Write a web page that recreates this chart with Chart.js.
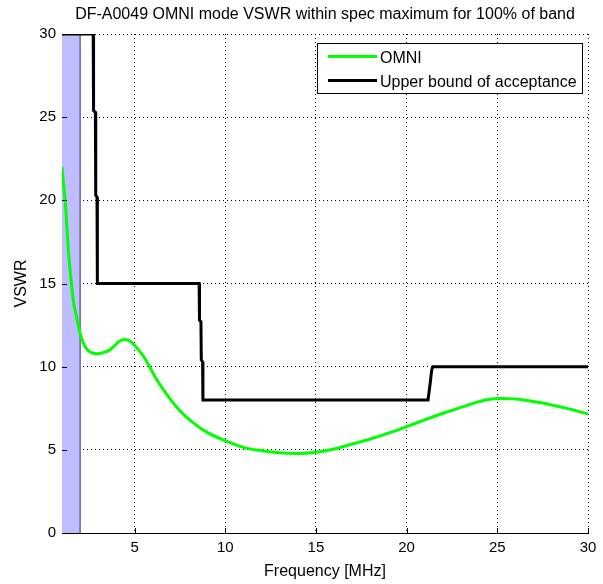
<!DOCTYPE html>
<html>
<head>
<meta charset="utf-8">
<script src="https://cdn.jsdelivr.net/npm/chart.js@4.4.1/dist/chart.umd.min.js"></script>
<style>
  html, body { margin: 0; padding: 0; background: #ffffff; }
  canvas { display: block; }
</style>
</head>
<body>
<canvas id="c" width="603" height="584"></canvas>
<script>
// ---- data ----
const chartTitle = 'DF-A0049 OMNI mode VSWR within spec maximum for 100% of band';
const xAxisLabel = 'Frequency [MHz]';
const yAxisLabel = 'VSWR';
const seriesLabels = ['OMNI', 'Upper bound of acceptance'];

const xTicks = [5, 10, 15, 20, 25, 30];
const yTicks = [0, 5, 10, 15, 20, 25, 30];

const omniFreq = [1, 1.1, 1.2, 1.35, 1.5, 1.62, 1.8, 1.95, 2.1, 2.3, 2.55, 2.9, 3.25, 3.6, 3.85, 4.1, 4.45, 4.8, 5.15, 5.6, 6.15, 6.6, 7.0, 7.5, 8.2, 9.0, 10, 11, 12, 13, 14, 15, 16, 17, 18, 19, 20, 21, 22, 23, 24, 25, 26, 27, 28, 29, 30];
const omniVswr = [22.0, 20.8, 19.6, 17.0, 15.2, 14.0, 13.0, 12.2, 11.65, 11.15, 10.88, 10.78, 10.84, 10.98, 11.2, 11.48, 11.63, 11.5, 11.1, 10.45, 9.35, 8.6, 8.0, 7.35, 6.65, 6.05, 5.55, 5.15, 4.95, 4.82, 4.78, 4.85, 5.05, 5.35, 5.65, 6.0, 6.4, 6.8, 7.2, 7.55, 7.9, 8.08, 8.05, 7.9, 7.7, 7.45, 7.15];

const limitFreq = [1, 2.72, 2.74, 2.84, 2.86, 2.93, 2.95, 8.56, 8.58, 8.66, 8.68, 8.75, 8.77, 21.18, 21.3, 21.38, 21.45, 30];
const limitVswr = [30, 30, 25.4, 25.3, 20.3, 20.2, 15, 15, 12.8, 12.7, 10.4, 10.3, 8, 8, 9.0, 9.8, 10, 10];

const bandFreq = [1, 2];
const bandVswr = [30, 30];

// ---- helpers ----
const FONT = '"Liberation Sans", Arial, Helvetica, sans-serif';
const toPts = (xs, ys) => xs.map((x, i) => ({ x: x, y: ys[i] }));

const legendPlugin = {
  id: 'boxLegend',
  afterDraw(chart) {
    const ctx = chart.ctx;
    const x0 = 317.5, y0 = 43.5, w = 265, h = 50;
    ctx.save();
    ctx.fillStyle = '#ffffff';
    ctx.fillRect(x0, y0, w, h);
    ctx.strokeStyle = '#000000';
    ctx.lineWidth = 1;
    ctx.strokeRect(x0, y0, w, h);
    const items = [
      { label: seriesLabels[0], color: chart.data.datasets[0].borderColor, y: 56.5 },
      { label: seriesLabels[1], color: chart.data.datasets[1].borderColor, y: 80.5 }
    ];
    ctx.font = '16px ' + FONT;
    ctx.textBaseline = 'middle';
    ctx.textAlign = 'left';
    items.forEach(it => {
      ctx.strokeStyle = it.color;
      ctx.lineWidth = 3;
      ctx.beginPath();
      ctx.moveTo(328, it.y);
      ctx.lineTo(377, it.y);
      ctx.stroke();
      ctx.fillStyle = '#000000';
      ctx.fillText(it.label, 380, it.y + 2);
    });
    ctx.restore();
  }
};

const innerTicksPlugin = {
  id: 'innerTicks',
  afterDatasetsDraw(chart) {
    const ctx = chart.ctx;
    const xs = chart.scales.x, ys = chart.scales.y;
    const a = chart.chartArea;
    ctx.save();
    ctx.strokeStyle = '#000000';
    ctx.lineWidth = 1;
    ctx.beginPath();
    xTicks.forEach(v => {
      const px = Math.round(xs.getPixelForValue(v)) + 0.5;
      ctx.moveTo(px, a.bottom);
      ctx.lineTo(px, a.bottom - 5);
    });
    yTicks.forEach(v => {
      const py = Math.round(ys.getPixelForValue(v)) + 0.5;
      ctx.moveTo(a.left, py);
      ctx.lineTo(a.left + 5, py);
    });
    ctx.stroke();
    ctx.restore();
  }
};

new Chart(document.getElementById('c'), {
  type: 'line',
  data: {
    datasets: [
      {
        label: seriesLabels[0],
        data: toPts(omniFreq, omniVswr),
        borderColor: '#00ff00',
        borderWidth: 3,
        pointRadius: 0,
        cubicInterpolationMode: 'monotone',
        fill: false
      },
      {
        label: seriesLabels[1],
        data: toPts(limitFreq, limitVswr),
        borderColor: '#000000',
        borderWidth: 3,
        pointRadius: 0,
        tension: 0,
        fill: false
      },
      {
        label: 'band edge',
        data: [{ x: bandFreq[1], y: 0 }, { x: bandFreq[1], y: bandVswr[1] }],
        borderColor: '#2b2b55',
        borderWidth: 1,
        pointRadius: 0,
        fill: false
      },
      {
        label: 'band',
        data: toPts(bandFreq, bandVswr),
        borderColor: 'rgba(0,0,0,0)',
        borderWidth: 0,
        backgroundColor: '#bdbdff',
        pointRadius: 0,
        fill: 'origin'
      }
    ]
  },
  options: {
    responsive: false,
    animation: false,
    devicePixelRatio: 1,
    layout: { padding: { left: 0, right: 15, top: 0, bottom: 0 } },
    plugins: {
      legend: { display: false },
      tooltip: { enabled: false },
      title: {
        display: true,
        text: chartTitle,
        fullSize: false,
        color: '#000000',
        font: { family: FONT, size: 16, weight: 'normal', lineHeight: 1.2 },
        padding: { top: 5, bottom: 9.8 }
      }
    },
    scales: {
      x: {
        type: 'linear',
        min: 1,
        max: 30,
        afterBuildTicks: s => { s.ticks = xTicks.map(v => ({ value: v })); },
        afterFit: s => { s.height = 51; },
        grid: { color: '#000000', lineWidth: 1, drawTicks: false },
        border: { display: true, color: '#000000', width: 1, dash: [1, 3] },
        ticks: { color: '#000000', padding: 6, font: { family: FONT, size: 15 }, maxRotation: 0 },
        title: {
          display: true,
          text: xAxisLabel,
          color: '#000000',
          font: { family: FONT, size: 16, lineHeight: 1.2 },
          padding: { top: 0, bottom: 3 }
        }
      },
      y: {
        type: 'linear',
        min: 0,
        max: 30,
        afterBuildTicks: s => { s.ticks = yTicks.map(v => ({ value: v })); },
        afterFit: s => { s.width = 62; },
        grid: { color: '#000000', lineWidth: 1, drawTicks: false },
        border: { display: true, color: '#000000', width: 1, dash: [1, 3] },
        ticks: { color: '#000000', padding: 6, font: { family: FONT, size: 15 } },
        title: {
          display: true,
          text: yAxisLabel,
          color: '#000000',
          font: { family: FONT, size: 16, lineHeight: 1.2 },
          padding: { top: 12, bottom: 0 }
        }
      }
    }
  },
  plugins: [innerTicksPlugin, legendPlugin]
});
</script>
</body>
</html>
